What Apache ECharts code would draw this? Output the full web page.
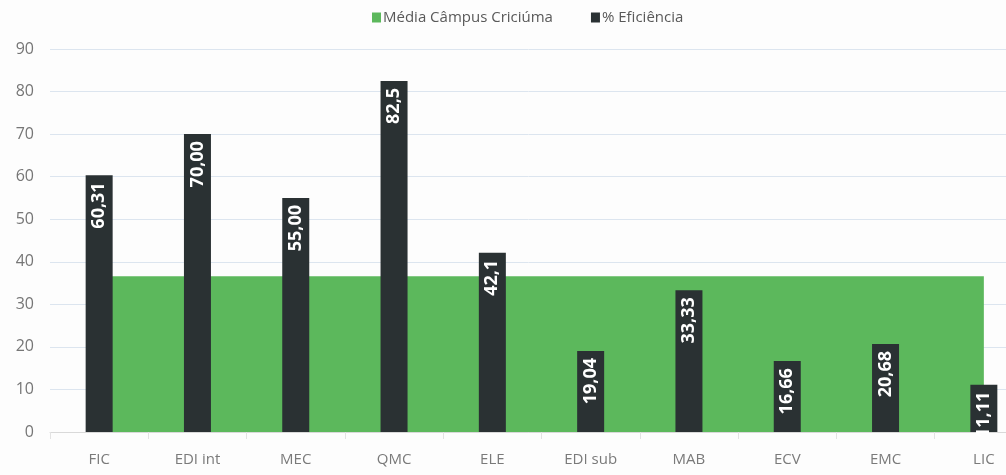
<!DOCTYPE html>
<html>
<head>
<meta charset="utf-8">
<script src="https://cdn.jsdelivr.net/npm/echarts@6/dist/echarts.min.js"></script>
<style>
  html, body { margin: 0; padding: 0; background: #fdfdfd; }
  #chart { width: 1006px; height: 475px; }
</style>
</head>
<body>
<div id="chart"></div>
<script>
// categorias (cursos)
const cursos = ['FIC', 'EDI int', 'MEC', 'QMC', 'ELE', 'EDI sub', 'MAB', 'ECV', 'EMC', 'LIC']
// % eficiência por curso
const eficiencia = [60.31, 70.00, 55.00, 82.5, 42.1, 19.04, 33.33, 16.66, 20.68, 11.11]
// rótulos como aparecem no gráfico
const rotulos = ['60,31', '70,00', '55,00', '82,5', '42,1', '19,04', '33,33', '16,66', '20,68', '11,11']
// média do câmpus (mesmo valor em todos os cursos)
const mediaCampus = [36.6, 36.6, 36.6, 36.6, 36.6, 36.6, 36.6, 36.6, 36.6, 36.6]
// eixo Y
const yMin = 0
const yMax = 90
const yStep = 10

const chart = echarts.init(document.getElementById('chart'))

const option = {
  animation: false,
  textStyle: { fontFamily: '"Open Sans", sans-serif' },
  legend: {
    left: 367,
    top: 5,
    itemWidth: 9,
    itemHeight: 10,
    itemGap: 38,
    textStyle: { color: '#595959', fontSize: 15, padding: [0, 0, 0, -3] },
    data: [
      { name: 'Média Câmpus Criciúma', icon: 'rect' },
      { name: '% Eficiência', icon: 'rect' }
    ]
  },
  // a área do gráfico passa da borda direita (corte da imagem original)
  grid: { left: 50, top: 49, width: 983, height: 383, outerBoundsMode: 'none', containLabel: false },
  xAxis: {
    type: 'category',
    data: cursos,
    boundaryGap: true,
    axisLine: { lineStyle: { color: '#d9d9d9' } },
    axisTick: { show: true, length: 7, lineStyle: { color: '#e3e3e3' } },
    axisLabel: { color: '#7a7a7a', fontSize: 15, margin: 20 }
  },
  yAxis: {
    type: 'value',
    min: yMin,
    max: yMax,
    interval: yStep,
    axisLine: { show: false },
    axisTick: { show: false },
    axisLabel: { color: '#767676', fontSize: 16, margin: 16 },
    splitLine: { lineStyle: { color: '#dce5ef', width: 1 } }
  },
  series: [
    {
      name: 'Média Câmpus Criciúma',
      type: 'line',
      data: mediaCampus,
      symbol: 'none',
      color: '#5cb85c',
      lineStyle: { width: 0 },
      areaStyle: { color: '#5cb85c', opacity: 1 },
      z: 1
    },
    {
      name: '% Eficiência',
      type: 'bar',
      data: eficiencia,
      barWidth: 27,
      color: '#2a3133',
      itemStyle: { color: '#2a3133' },
      z: 3,
      label: {
        show: true,
        position: 'insideTop',
        rotate: 90,
        align: 'right',
        verticalAlign: 'middle',
        distance: 7,
        color: '#ffffff',
        fontWeight: 'bold',
        fontSize: 18,
        formatter: p => rotulos[p.dataIndex]
      }
    }
  ]
}

chart.setOption(option)
</script>
</body>
</html>
